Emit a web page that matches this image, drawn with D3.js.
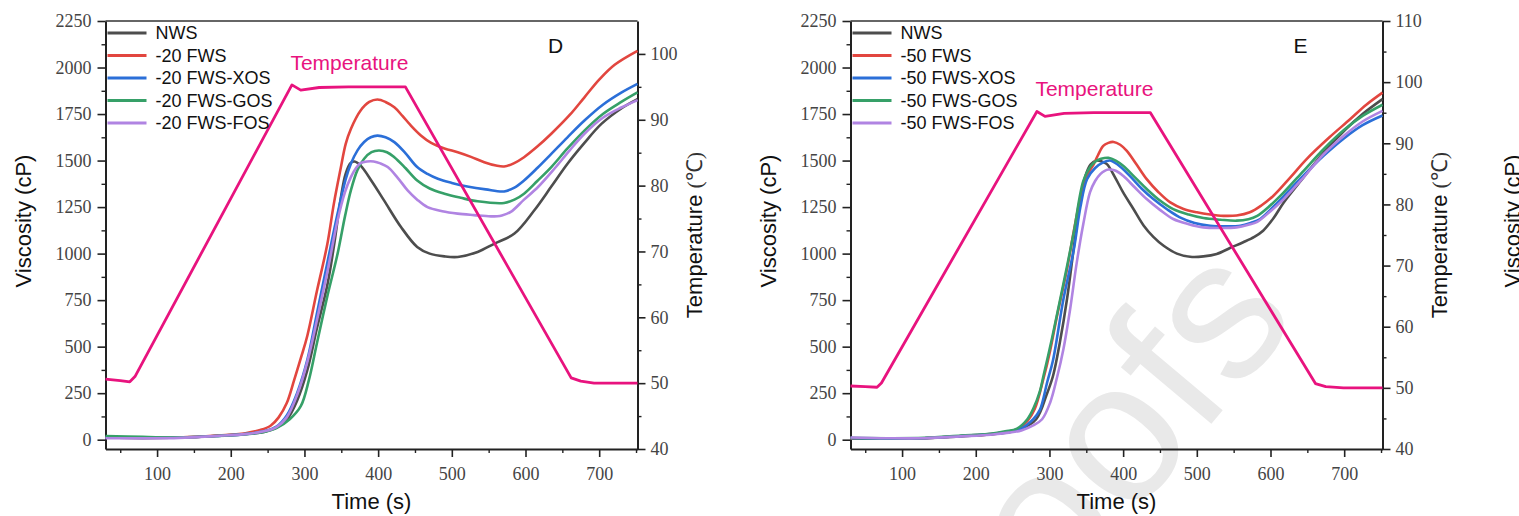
<!DOCTYPE html>
<html>
<head>
<meta charset="utf-8">
<script src="https://cdn.jsdelivr.net/npm/d3@7"></script>
<style>
  body { margin: 0; background: #fff; }
  svg { display: block; }
</style>
</head>
<body>
<script>

// ---- data: [time (s), viscosity (cP)] ----
var nwsD = [[30,12],[80,10],[130,12],[180,20],[220,30],[245,42],[262,65],[276,107],[290,210],[304,375],[317,600],[331,830],[340,1040],[349,1290],[356,1430],[363,1488],[368,1495],[376,1474],[392,1385],[408,1286],[431,1143],[453,1036],[470,1000],[490,985],[508,982],[535,1009],[558,1054],[585,1108],[612,1233],[635,1360],[657,1483],[680,1595],[703,1697],[730,1780],[752,1830]];
var fwsD = [[30,12],[80,10],[130,12],[180,22],[220,35],[240,52],[254,75],[265,120],[276,197],[286,320],[296,450],[304,560],[317,800],[331,1050],[340,1270],[349,1455],[356,1590],[363,1670],[376,1768],[388,1815],[399,1828],[410,1815],[422,1786],[433,1740],[444,1690],[458,1635],[472,1595],[490,1565],[508,1545],[526,1520],[544,1491],[560,1473],[571,1468],[584,1485],[598,1518],[616,1575],[635,1644],[660,1745],[680,1840],[700,1935],[721,2015],[752,2090]];
var xosD = [[30,12],[80,10],[130,12],[180,20],[220,30],[245,45],[262,70],[276,130],[290,250],[304,430],[317,680],[331,950],[345,1215],[356,1400],[363,1483],[372,1555],[381,1600],[390,1625],[399,1634],[410,1625],[422,1599],[437,1540],[453,1465],[467,1428],[481,1402],[500,1380],[521,1361],[546,1345],[571,1334],[585,1355],[598,1393],[616,1460],[635,1536],[657,1625],[680,1715],[705,1800],[730,1865],[752,1912]];
var gosD = [[30,20],[80,15],[130,13],[180,20],[220,30],[245,42],[262,62],[280,110],[295,180],[306,320],[317,520],[331,770],[345,1000],[355,1200],[363,1340],[372,1450],[381,1510],[391,1545],[401,1554],[412,1545],[422,1518],[437,1460],[453,1393],[470,1350],[490,1322],[512,1300],[535,1281],[571,1272],[585,1290],[598,1322],[616,1390],[635,1465],[657,1565],[680,1661],[705,1750],[730,1815],[752,1866]];
var fosD = [[30,8],[80,8],[130,10],[180,20],[220,30],[245,45],[262,68],[276,120],[290,240],[304,420],[317,643],[331,900],[345,1179],[355,1330],[363,1411],[370,1460],[376,1486],[385,1495],[394,1495],[403,1485],[413,1465],[426,1410],[440,1340],[453,1290],[467,1250],[487,1228],[508,1215],[530,1207],[553,1200],[568,1205],[580,1224],[598,1290],[617,1358],[640,1460],[660,1555],[680,1644],[705,1730],[730,1785],[752,1825]];

var nwsE = [[30,8],[80,5],[130,8],[180,18],[220,28],[245,40],[262,58],[282,110],[296,240],[305,345],[314,520],[324,760],[333,1030],[342,1290],[349,1420],[356,1480],[364,1500],[371,1495],[378,1481],[389,1410],[400,1329],[414,1240],[428,1150],[441,1090],[455,1042],[473,1000],[491,983],[509,985],[527,998],[545,1030],[563,1061],[578,1090],[590,1123],[604,1190],[618,1275],[645,1410],[672,1543],[700,1660],[725,1750],[752,1830]];
var fwsE = [[30,5],[80,5],[130,8],[180,20],[220,30],[245,45],[258,60],[270,100],[280,165],[292,330],[301,480],[310,660],[324,920],[333,1120],[342,1300],[351,1420],[360,1480],[366,1530],[373,1579],[380,1595],[387,1600],[396,1585],[405,1552],[418,1480],[432,1400],[448,1330],[464,1275],[482,1240],[500,1222],[518,1210],[536,1203],[554,1205],[572,1222],[588,1260],[604,1311],[627,1410],[649,1508],[680,1625],[708,1722],[730,1800],[752,1865]];
var xosE = [[30,8],[80,6],[130,8],[180,20],[220,30],[245,42],[262,60],[278,110],[287,160],[297,310],[305,430],[319,756],[333,1020],[342,1250],[351,1400],[362,1460],[373,1490],[382,1500],[392,1480],[409,1418],[425,1350],[441,1293],[459,1240],[477,1195],[497,1165],[518,1150],[540,1147],[559,1150],[573,1165],[586,1186],[606,1260],[627,1347],[650,1440],[672,1525],[700,1620],[725,1690],[752,1742]];
var gosE = [[30,10],[80,8],[130,10],[180,22],[220,32],[240,45],[256,60],[270,110],[278,166],[287,260],[292,345],[301,500],[310,667],[324,935],[333,1114],[346,1390],[356,1470],[364,1500],[370,1510],[380,1515],[390,1500],[400,1472],[416,1410],[432,1347],[450,1285],[468,1239],[489,1210],[509,1191],[532,1182],[554,1177],[570,1185],[582,1203],[600,1260],[618,1329],[645,1445],[672,1561],[700,1665],[725,1740],[752,1800]];
var fosE = [[30,12],[80,8],[130,8],[180,18],[220,27],[245,38],[262,50],[278,77],[290,110],[301,200],[310,330],[319,488],[328,700],[337,950],[346,1160],[355,1329],[362,1390],[369,1427],[375,1445],[380,1452],[390,1445],[400,1418],[416,1355],[432,1293],[450,1235],[468,1186],[489,1158],[509,1141],[532,1138],[554,1141],[570,1155],[582,1171],[600,1228],[618,1293],[645,1410],[672,1534],[700,1635],[725,1710],[752,1767]];

// [time (s), temperature (C)]
var tempD = [[30,50.6],[50,50.4],[63,50.2],[70,51.0],[283,95.3],[295,94.5],[320,94.9],[360,95.0],[437,95.0],[662,50.8],[675,50.3],[693,50.0],[752,50.0]];
var tempE = [[30,50.3],[50,50.2],[66,50.1],[72,50.8],[283,95.2],[294,94.4],[320,94.9],[360,95.0],[437,95.0],[661,50.7],[675,50.2],[699,50.0],[752,50.0]];

var namesD = ["NWS", "-20 FWS", "-20 FWS-XOS", "-20 FWS-GOS", "-20 FWS-FOS"];
var namesE = ["NWS", "-50 FWS", "-50 FWS-XOS", "-50 FWS-GOS", "-50 FWS-FOS"];
var colors = ["#4d4d4d", "#e2463f", "#2b6fd8", "#36a068", "#b084e2"];
var tempColor = "#e8137e";

var xTicks = [100, 200, 300, 400, 500, 600, 700];
var xMinor = [50, 150, 250, 350, 450, 550, 650, 750];
var vTicks = [0, 250, 500, 750, 1000, 1250, 1500, 1750, 2000, 2250];
var vMinor = [125, 375, 625, 875, 1125, 1375, 1625, 1875, 2125];
var tTicksD = [40, 50, 60, 70, 80, 90, 100];
var tMinorD = [45, 55, 65, 75, 85, 95];
var tTicksE = [40, 50, 60, 70, 80, 90, 100, 110];
var tMinorE = [45, 55, 65, 75, 85, 95, 105];


var W = 1519, H = 516;
var plotTop = 21, plotH = 428, plotW = 532;
var sans = "'Liberation Sans', Arial, sans-serif";
var serif = "'Liberation Serif', 'Times New Roman', serif";
var fmt = d3.format("d");

var svg = d3.select("body").append("svg")
    .attr("width", W)
    .attr("height", H);

// light watermark behind everything
svg.append("text")
    .attr("transform", "translate(1300,318) rotate(-50)")
    .attr("text-anchor", "end")
    .attr("font-family", sans)
    .attr("font-size", 200)
    .attr("fill", "#e9e9e9")
    .text("proofs");

function styleAxis(g) {
  g.attr("font-family", serif).attr("font-size", 18);
  g.selectAll("text").attr("fill", "#444");
  g.selectAll("line").attr("stroke", "#222").attr("stroke-width", 1.6);
  g.select(".domain").attr("stroke", "#222").attr("stroke-width", 2);
}

function minorAxis(g) {
  g.select(".domain").remove();
  g.selectAll("line").attr("stroke", "#222").attr("stroke-width", 1.4);
}

function drawPanel(p) {
  var left = p.left;

  var x = d3.scaleLinear().domain([30, 752]).range([left, left + plotW]);
  var y = d3.scaleLinear().domain([-50, 2250]).range([plotTop + plotH, plotTop]);
  var yT = d3.scaleLinear().domain(p.tDomain).range([plotTop + plotH, plotTop]);

  // top frame line
  svg.append("line")
      .attr("x1", left).attr("x2", left + plotW)
      .attr("y1", plotTop).attr("y2", plotTop)
      .attr("stroke", "#333").attr("stroke-width", 1.5);

  // bottom axis
  svg.append("g")
      .attr("transform", "translate(0," + (plotTop + plotH) + ")")
      .call(d3.axisBottom(x).tickValues(xMinor).tickSize(4).tickSizeOuter(0).tickFormat(""))
      .call(minorAxis);
  svg.append("g")
      .attr("transform", "translate(0," + (plotTop + plotH) + ")")
      .call(d3.axisBottom(x).tickValues(xTicks).tickSize(8).tickSizeOuter(0).tickPadding(10).tickFormat(fmt))
      .call(styleAxis);

  // left axis (viscosity)
  svg.append("g")
      .attr("transform", "translate(" + left + ",0)")
      .call(d3.axisLeft(y).tickValues(vMinor).tickSize(4).tickSizeOuter(0).tickFormat(""))
      .call(minorAxis);
  svg.append("g")
      .attr("transform", "translate(" + left + ",0)")
      .call(d3.axisLeft(y).tickValues(vTicks).tickSize(8).tickSizeOuter(0).tickPadding(6).tickFormat(fmt))
      .call(styleAxis);

  // right axis (temperature)
  svg.append("g")
      .attr("transform", "translate(" + (left + plotW) + ",0)")
      .call(d3.axisRight(yT).tickValues(p.tMinor).tickSize(4).tickSizeOuter(0).tickFormat(""))
      .call(minorAxis);
  svg.append("g")
      .attr("transform", "translate(" + (left + plotW) + ",0)")
      .call(d3.axisRight(yT).tickValues(p.tTicks).tickSize(8).tickSizeOuter(0).tickPadding(5).tickFormat(fmt))
      .call(styleAxis);

  // viscosity curves
  var line = d3.line()
      .x(function(d) { return x(d[0]); })
      .y(function(d) { return y(d[1]); })
      .curve(d3.curveCatmullRom.alpha(0.5));

  p.series.forEach(function(s, i) {
    svg.append("path")
        .datum(s)
        .attr("d", line)
        .attr("fill", "none")
        .attr("stroke", colors[i])
        .attr("stroke-width", 2.6)
        .attr("stroke-linejoin", "round");
  });

  // temperature curve (straight ramps)
  var tline = d3.line()
      .x(function(d) { return x(d[0]); })
      .y(function(d) { return yT(d[1]); });

  svg.append("path")
      .datum(p.temp)
      .attr("d", tline)
      .attr("fill", "none")
      .attr("stroke", tempColor)
      .attr("stroke-width", 2.8)
      .attr("stroke-linejoin", "round");

  svg.append("text")
      .attr("x", x(281))
      .attr("y", yT(95) - 17)
      .attr("font-family", sans)
      .attr("font-size", 21)
      .attr("fill", tempColor)
      .text("Temperature");

  // legend
  p.names.forEach(function(n, i) {
    var ly = 33 + i * 22.5;
    svg.append("line")
        .attr("x1", left + 2).attr("x2", left + 41)
        .attr("y1", ly).attr("y2", ly)
        .attr("stroke", colors[i])
        .attr("stroke-width", 3);
    svg.append("text")
        .attr("x", left + 50)
        .attr("y", ly)
        .attr("dy", "0.36em")
        .attr("font-family", sans)
        .attr("font-size", 18)
        .attr("fill", "#111")
        .text(n);
  });

  // panel letter
  svg.append("text")
      .attr("x", left + 450)
      .attr("y", 53)
      .attr("text-anchor", "middle")
      .attr("font-family", sans)
      .attr("font-size", 21)
      .attr("fill", "#111")
      .text(p.letter);

  // axis titles
  svg.append("text")
      .attr("x", left + plotW / 2)
      .attr("y", 509)
      .attr("text-anchor", "middle")
      .attr("font-family", sans)
      .attr("font-size", 22)
      .attr("fill", "#111")
      .text("Time (s)");

  svg.append("text")
      .attr("transform", "translate(" + (left - 82) + ",221) rotate(-90)")
      .attr("dy", "0.35em")
      .attr("text-anchor", "middle")
      .attr("font-family", sans)
      .attr("font-size", 22)
      .attr("fill", "#111")
      .text("Viscosity (cP)");

  var tt = svg.append("text")
      .attr("transform", "translate(" + (left + plotW + 57) + ",235) rotate(-90)")
      .attr("dy", "0.35em")
      .attr("text-anchor", "middle")
      .attr("font-family", sans)
      .attr("font-size", 22)
      .attr("fill", "#111");
  tt.append("tspan").text("Temperature ");
  tt.append("tspan").attr("font-family", serif).attr("fill", "#333").text("(℃)");
}

drawPanel({
  left: 105.5, letter: "D", names: namesD,
  series: [nwsD, fwsD, xosD, gosD, fosD], temp: tempD,
  tDomain: [40, 105], tTicks: tTicksD, tMinor: tMinorD
});

drawPanel({
  left: 850.5, letter: "E", names: namesE,
  series: [nwsE, fwsE, xosE, gosE, fosE], temp: tempE,
  tDomain: [40, 110], tTicks: tTicksE, tMinor: tMinorE
});

// title of the next panel, cut off by the page edge
svg.append("text")
    .attr("transform", "translate(1512,221) rotate(-90)")
    .attr("dy", "0.35em")
    .attr("text-anchor", "middle")
    .attr("font-family", sans)
    .attr("font-size", 22)
    .attr("fill", "#111")
    .text("Viscosity (cP)");

</script>
</body>
</html>
